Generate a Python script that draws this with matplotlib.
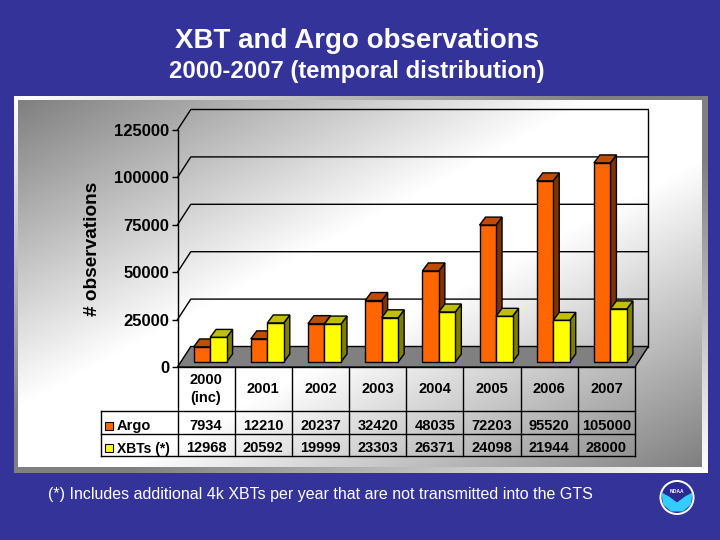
import numpy as np
import matplotlib
matplotlib.use("Agg")
import matplotlib.pyplot as plt
from matplotlib.patches import Polygon, Rectangle, Circle

plt.rcParams['font.family'] = ['Liberation Sans', 'DejaVu Sans']

# data
years = ["2000\n(inc)", "2001", "2002", "2003", "2004", "2005", "2006", "2007"]
argo = [7934, 12210, 20237, 32420, 48035, 72203, 95520, 105000]
xbts = [12968, 20592, 19999, 23303, 26371, 24098, 21944, 28000]
y_ticks = [0, 25000, 50000, 75000, 100000, 125000]

W, H = 720, 540
BLUE = "#333399"

fig = plt.figure(figsize=(W / 100, H / 100), dpi=100, facecolor=BLUE)

# overlay in pixel coordinates for the panel, table and captions
bg = fig.add_axes([0, 0, 1, 1])
bg.axis("off")

# panel: border runs the opposite way to the inner diagonal gradient
px0, px1, py0, py1 = 14, 708, 96, 473
ix0, ix1, iy0, iy1 = 18, 702, 100, 467


def diagonal(nx, ny):
    gx, gy = np.meshgrid(np.linspace(0, 1, nx), np.linspace(0, 1, ny))
    d = (gx + gy) / 2
    return np.where(d < 0.5, 0.5 + 0.5 * np.clip(d / 0.42, 0, 1),
                    0.5 + 0.5 * np.clip((1 - d) / 0.42, 0, 1))


bg.imshow(1.5 - diagonal(340, 190), cmap="gray", vmin=0, vmax=1, extent=(px0, px1, py1, py0),
          aspect="auto", interpolation="bilinear", zorder=0)
bg.imshow(diagonal(340, 190), cmap="gray", vmin=0, vmax=1, extent=(ix0, ix1, iy1, iy0),
          aspect="auto", interpolation="bilinear", zorder=0.5)
bg.set_xlim(0, W)
bg.set_ylim(H, 0)

bg.text(357, 41, "XBT and Argo observations", ha="center", va="center",
        fontsize=20, fontweight="bold", color="white")
bg.text(357, 71.5, "2000-2007 (temporal distribution)", ha="center", va="center",
        fontsize=17.2, fontweight="bold", color="white")
bg.text(320.5, 494, "(*) Includes additional 4k XBTs per year that are not transmitted into the GTS",
        ha="center", va="center", fontsize=11.5, color="white")
bg.text(92.5, 249, "# observations", rotation=90, ha="center", va="center",
        fontsize=13.7, fontweight="bold", color="black")

# plot axes: front floor edge of the 3d box
x0, x1, y0, y1 = 177.5, 635, 367, 130
ax = fig.add_axes([x0 / W, 1 - y0 / H, (x1 - x0) / W, (y0 - y1) / H])
ax.set_xlim(0, 8)
ax.set_ylim(0, 125000)
ax.patch.set_alpha(0)
for s in ["top", "right", "bottom"]:
    ax.spines[s].set_visible(False)
ax.spines["left"].set_linewidth(1)
ax.set_xticks([])
ax.set_yticks(y_ticks)
ax.set_yticklabels([str(t) for t in y_ticks], fontsize=12, fontweight="bold")
ax.tick_params(axis="y", length=4, width=1, pad=2)

# 3d offsets, in axes data units
ux = 8 / (x1 - x0)
uy = 125000 / (y0 - y1)
depth_x, depth_y = 13.3 * ux, 20.5 * uy


def poly(pts, fc, z):
    ax.add_patch(Polygon(pts, closed=True, facecolor=fc, edgecolor="black",
                         linewidth=1, clip_on=False, zorder=z))


# floor and back wall lines
poly([(0, 0), (8, 0), (8 + depth_x, depth_y), (depth_x, depth_y)], "#808080", 1)
for t in y_ticks[1:]:
    ax.plot([0, depth_x, 8 + depth_x], [t, t + depth_y, t + depth_y], color="black",
            lw=1, clip_on=False, zorder=1)
ax.plot([8 + depth_x, 8 + depth_x], [depth_y, 125000 + depth_y], color="black",
        lw=1, clip_on=False, zorder=1)

# bars sit part way into the box
bar_w = 16.5 * ux
base = 5 * uy
bar_dx, bar_dy = 6 * ux, 8 * uy


def bar3d(left, val, front, side, top, z):
    poly([(left + bar_w, base), (left + bar_w + bar_dx, base + bar_dy),
          (left + bar_w + bar_dx, base + val + bar_dy), (left + bar_w, base + val)], side, z)
    poly([(left, base + val), (left + bar_w, base + val),
          (left + bar_w + bar_dx, base + val + bar_dy), (left + bar_dx, base + val + bar_dy)], top, z)
    ax.bar(left, val, bar_w, bottom=base, align="edge", color=front, edgecolor="black",
           linewidth=1, clip_on=False, zorder=z + 0.1)


for i in range(len(years)):
    left = i + 0.5 - bar_w + 0.07
    bar3d(left, argo[i], "#ff6600", "#803300", "#bf4d00", 3 + i)
    bar3d(left + bar_w, xbts[i], "#ffff00", "#808000", "#bfbf00", 3.5 + i)

# table under the chart
col_w = (x1 - x0) / len(years)
rows = [367, 411, 434.3, 456]
leg_x = 100.5
for i in range(len(years) + 1):
    xx = x0 + i * col_w
    bg.plot([xx, xx], [rows[0], rows[3]], color="black", lw=1, zorder=2)
bg.plot([x0, x1], [rows[0], rows[0]], color="black", lw=1, zorder=2)
for r in rows[1:]:
    bg.plot([leg_x, x1], [r, r], color="black", lw=1, zorder=2)
bg.plot([leg_x, leg_x], [rows[1], rows[3]], color="black", lw=1, zorder=2)

for i, yr in enumerate(years):
    cx = x0 + (i + 0.5) * col_w
    bg.text(cx, 389, yr, ha="center", va="center", fontsize=10.5, fontweight="bold",
            linespacing=1.35, zorder=3)
    bg.text(cx, 425.5, str(argo[i]), ha="center", va="center", fontsize=10.5,
            fontweight="bold", zorder=3)
    bg.text(cx, 447.5, str(xbts[i]), ha="center", va="center", fontsize=10.5,
            fontweight="bold", zorder=3)

bg.add_patch(Rectangle((105, 421.5), 8, 8, facecolor="#ff6600", edgecolor="black", lw=0.8, zorder=3))
bg.add_patch(Rectangle((105, 444), 8, 8, facecolor="#ffff00", edgecolor="black", lw=0.8, zorder=3))
bg.text(117, 426, "Argo", ha="left", va="center", fontsize=10.5, fontweight="bold", zorder=3)
bg.text(117, 448.5, "XBTs (*)", ha="left", va="center", fontsize=10, fontweight="bold", zorder=3)

# round emblem at lower right
lx, ly, lr = 677, 497.5, 17.5
bg.add_patch(Circle((lx, ly), lr, facecolor="white", edgecolor="none", zorder=3))
bg.add_patch(Circle((lx, ly), lr - 2, facecolor="#2a2a90", edgecolor="none", zorder=3))
bg.add_patch(Polygon([(lx - 15.5, ly - 5), (lx - 8, ly - 1), (lx, ly + 5), (lx + 8, ly - 1),
                      (lx + 15.5, ly - 5), (lx + 14, ly + 7), (lx + 6, ly + 14), (lx - 6, ly + 14),
                      (lx - 14, ly + 7)], closed=True, facecolor="#33ccff", edgecolor="none", zorder=4))
bg.text(lx, ly - 6, "NOAA", ha="center", va="center", fontsize=3.5, color="white",
        fontweight="bold", zorder=5)

fig.savefig("out.png", dpi=100, facecolor=BLUE)
